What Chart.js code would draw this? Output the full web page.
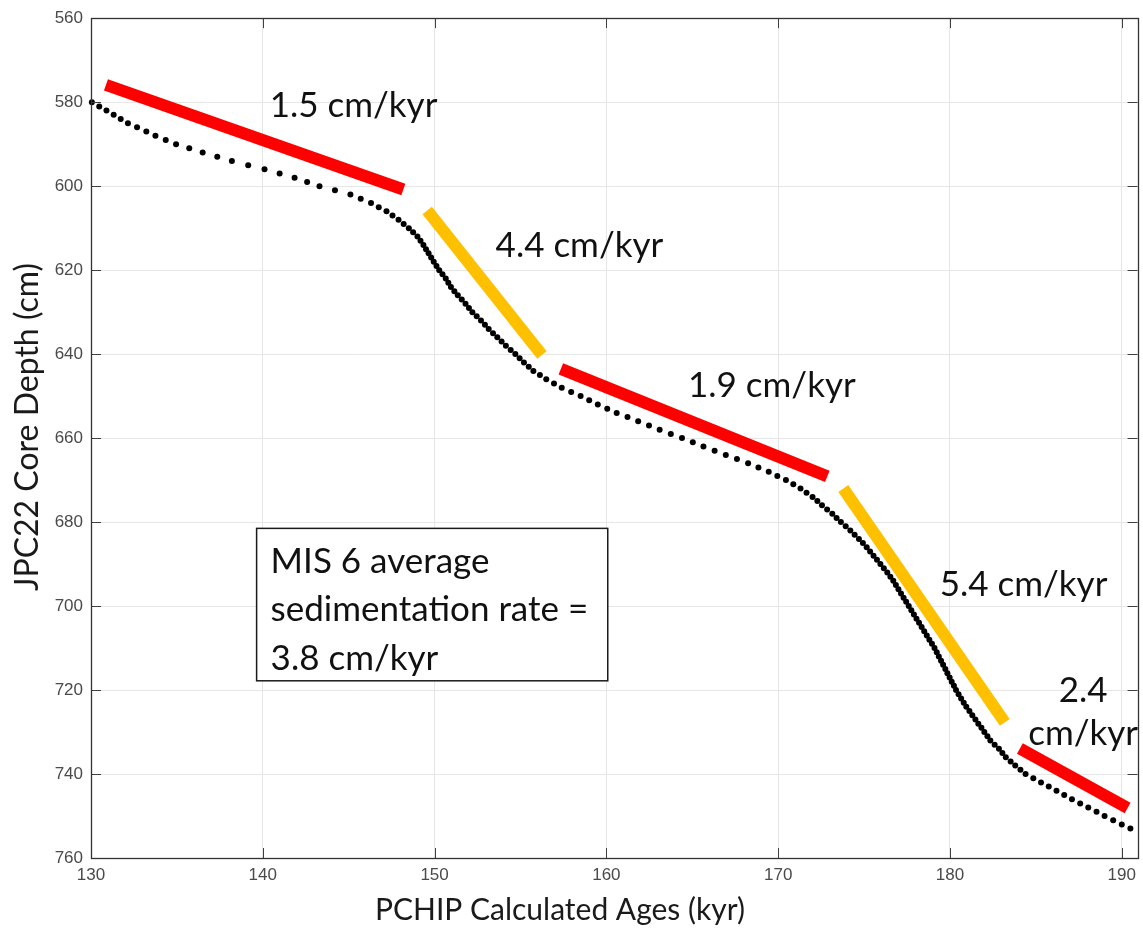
<!DOCTYPE html>
<html>
<head>
<meta charset="utf-8">
<script src="https://cdn.jsdelivr.net/npm/chart.js@4.4.1/dist/chart.umd.min.js"></script>
<style>
  html, body { margin: 0; padding: 0; background: #ffffff; }
  #wrap { position: relative; width: 1143px; height: 934px; }
</style>
</head>
<body>
<div id="wrap"><canvas id="c"></canvas></div>
<script>
// ---------- DATA ----------
const depthCm = [
  580,581,582,583,584,585,586,587,588,589,
  590,591,592,593,594,595,596,597,598,599,
  600,601,602,603,604,605,606,607,608,609,
  610,611,612,613,614,615,616,617,618,619,
  620,621,622,623,624,625,626,627,628,629,
  630,631,632,633,634,635,636,637,638,639,
  640,641,642,643,644,645,646,647,648,649,
  650,651,652,653,654,655,656,657,658,659,
  660,661,662,663,664,665,666,667,668,669,
  670,671,672,673,674,675,676,677,678,679,
  680,681,682,683,684,685,686,687,688,689,
  690,691,692,693,694,695,696,697,698,699,
  700,701,702,703,704,705,706,707,708,709,
  710,711,712,713,714,715,716,717,718,719,
  720,721,722,723,724,725,726,727,728,729,
  730,731,732,733,734,735,736,737,738,739,
  740,741,742,743,744,745,746,747,748,749,
  750,751,752,753
];
const ageKyr = [
  130.05,130.48,130.90,131.32,131.73,132.15,132.68,133.22,133.75,134.35,
  134.95,135.72,136.50,137.35,138.20,139.15,140.10,140.98,141.85,142.58,
  143.30,144.20,145.10,145.70,146.30,146.75,147.20,147.55,147.90,148.20,
  148.50,148.75,149.00,149.18,149.35,149.50,149.65,149.80,149.95,150.11,
  150.27,150.46,150.65,150.80,150.95,151.15,151.35,151.58,151.80,152.00,
  152.20,152.45,152.70,152.93,153.15,153.40,153.65,153.90,154.15,154.43,
  154.70,154.95,155.20,155.48,155.75,156.13,156.50,156.95,157.40,157.95,
  158.50,159.00,159.50,160.05,160.60,161.23,161.85,162.48,163.10,163.75,
  164.40,165.03,165.65,166.30,166.95,167.60,168.25,168.85,169.45,169.95,
  170.45,170.88,171.30,171.65,172.00,172.28,172.55,172.85,173.15,173.40,
  173.65,173.93,174.20,174.45,174.70,174.93,175.15,175.35,175.55,175.75,
  175.95,176.15,176.35,176.53,176.70,176.85,177.00,177.15,177.30,177.45,
  177.60,177.75,177.90,178.05,178.20,178.35,178.50,178.65,178.80,178.95,
  179.10,179.23,179.35,179.48,179.60,179.73,179.85,179.98,180.10,180.23,
  180.35,180.50,180.65,180.80,180.95,181.13,181.30,181.48,181.65,181.83,
  182.00,182.18,182.35,182.60,182.85,183.05,183.25,183.53,183.80,184.10,
  184.40,184.85,185.30,185.75,186.20,186.65,187.10,187.58,188.05,188.53,
  189.00,189.50,190.00,190.50
];
// sedimentation-rate segments (start/end in age & depth)
const segAgeStart   = [130.87, 149.57, 157.35, 173.79, 184.07];
const segAgeEnd     = [148.18, 156.25, 172.86, 183.19, 190.34];
const segDepthStart = [575.9, 605.8, 643.5, 672.0, 733.9];
const segDepthEnd   = [600.8, 640.2, 669.1, 727.7, 748.1];
const segKind       = ['slow', 'fast', 'slow', 'fast', 'slow'];
const rateLabels    = ['1.5 cm/kyr', '4.4 cm/kyr', '1.9 cm/kyr', '5.4 cm/kyr', ['2.4', 'cm/kyr']];
const boxLines      = ['MIS 6 average', 'sedimentation rate =', '3.8 cm/kyr'];
const xTickValues   = [130, 140, 150, 160, 170, 180, 190];
const yTickValues   = [560, 580, 600, 620, 640, 660, 680, 700, 720, 740, 760];
const xTitle        = 'PCHIP Calculated Ages (kyr)';
const yTitle        = 'JPC22 Core Depth (cm)';

// ---------- LAYOUT / STYLE (not data) ----------
const segColors = { slow: '#ff0000', fast: '#ffc000' };
// label anchors in data coordinates: [age, depth, align]
const rateLabelPos = [
  [140.4, 580.9, 'left'],
  [153.55, 614.1, 'left'],
  [164.75, 647.5, 'left'],
  [179.4, 694.8, 'left'],
  [187.75, 720.1, 'center']
];
const boxPos = { a0: 139.64, a1: 160.08, d0: 681.5, d1: 717.8 };
const annFont = '"Lato", "Open Sans", sans-serif';
const tickFont = '"Liberation Sans", Arial, sans-serif';

const points = depthCm.map((d, i) => ({ x: ageKyr[i], y: d }));

const segDatasets = segAgeStart.map((a, i) => ({
  type: 'line',
  data: [{ x: a, y: segDepthStart[i] }, { x: segAgeEnd[i], y: segDepthEnd[i] }],
  borderColor: segColors[segKind[i]],
  backgroundColor: segColors[segKind[i]],
  borderWidth: 12,
  borderCapStyle: 'butt',
  pointRadius: 0,
  showLine: true,
  fill: false,
  clip: false,
  order: 2
}));

const framePlugin = {
  id: 'frameAndNotes',
  afterDatasetsDraw(chart) {
    const { ctx, chartArea: ca, scales: { x, y } } = chart;
    ctx.save();
    // inward tick marks on all four sides
    ctx.strokeStyle = '#404040';
    ctx.lineWidth = 1;
    const tl = 10;
    ctx.beginPath();
    xTickValues.forEach(v => {
      const px = Math.round(x.getPixelForValue(v)) + 0.5;
      ctx.moveTo(px, ca.bottom); ctx.lineTo(px, ca.bottom - tl);
      ctx.moveTo(px, ca.top); ctx.lineTo(px, ca.top + tl);
    });
    yTickValues.forEach(v => {
      const py = Math.round(y.getPixelForValue(v)) + 0.5;
      ctx.moveTo(ca.left, py); ctx.lineTo(ca.left + tl, py);
      ctx.moveTo(ca.right, py); ctx.lineTo(ca.right - tl, py);
    });
    ctx.stroke();
    // box frame
    ctx.strokeStyle = '#333333';
    ctx.lineWidth = 1.3;
    ctx.strokeRect(Math.round(ca.left) + 0.5, Math.round(ca.top) + 0.5,
                   Math.round(ca.right - ca.left), Math.round(ca.bottom - ca.top));

    // rate labels
    ctx.fillStyle = '#111111';
    ctx.font = '35px ' + annFont;
    ctx.textBaseline = 'middle';
    rateLabels.forEach((txt, i) => {
      const [a, d, al] = rateLabelPos[i];
      const px = x.getPixelForValue(a);
      const py = y.getPixelForValue(d);
      ctx.textAlign = al;
      if (Array.isArray(txt)) {
        txt.forEach((t, k) => ctx.fillText(t, px, py + k * 43));
      } else {
        ctx.fillText(txt, px, py);
      }
    });

    // MIS 6 text box
    const bx0 = x.getPixelForValue(boxPos.a0), bx1 = x.getPixelForValue(boxPos.a1);
    const by0 = y.getPixelForValue(boxPos.d0), by1 = y.getPixelForValue(boxPos.d1);
    ctx.fillStyle = '#ffffff';
    ctx.fillRect(bx0, by0, bx1 - bx0, by1 - by0);
    ctx.strokeStyle = '#1a1a1a';
    ctx.lineWidth = 1.5;
    ctx.strokeRect(bx0, by0, bx1 - bx0, by1 - by0);
    ctx.fillStyle = '#111111';
    ctx.textAlign = 'left';
    boxLines.forEach((t, k) => ctx.fillText(t, bx0 + 14, by0 + 33 + k * 48.5));

    // axis titles
    ctx.fillStyle = '#1a1a1a';
    ctx.font = '30px ' + annFont;
    ctx.textAlign = 'center';
    ctx.textBaseline = 'middle';
    ctx.fillText(xTitle, 560, 910);
    ctx.save();
    ctx.translate(28, 427);
    ctx.rotate(-Math.PI / 2);
    ctx.font = '32px ' + annFont;
    ctx.fillText(yTitle, 0, 0);
    ctx.restore();
    ctx.restore();
  }
};

new Chart(document.getElementById('c'), {
  data: {
    datasets: [
      {
        type: 'scatter',
        label: 'PCHIP ages',
        data: points,
        pointRadius: 3,
        pointHoverRadius: 3,
        pointBorderWidth: 0,
        backgroundColor: '#000000',
        borderColor: '#000000',
        clip: false,
        order: 1
      },
      ...segDatasets
    ]
  },
  options: {
    responsive: true,
    maintainAspectRatio: false,
    animation: false,
    devicePixelRatio: 1,
    layout: { padding: { top: 15, right: 3, left: 0, bottom: 0 } },
    plugins: { legend: { display: false }, tooltip: { enabled: false } },
    scales: {
      x: {
        type: 'linear',
        position: 'bottom',
        min: 130,
        max: 190.92,
        afterFit: s => { s.height = 76; },
        afterBuildTicks: s => { s.ticks = xTickValues.map(v => ({ value: v })); },
        grid: { color: '#e6e6e6', lineWidth: 1, drawTicks: false },
        border: { display: false },
        ticks: {
          padding: 7,
          color: '#4a4a4a',
          font: { family: tickFont, size: 17 },
          maxRotation: 0
        },
        title: { display: false }
      },
      y: {
        type: 'linear',
        reverse: true,
        min: 560,
        max: 760,
        afterFit: s => { s.width = 91; },
        afterBuildTicks: s => { s.ticks = yTickValues.map(v => ({ value: v })); },
        grid: { color: '#e6e6e6', lineWidth: 1, drawTicks: false },
        border: { display: false },
        ticks: {
          padding: 8,
          color: '#4a4a4a',
          font: { family: tickFont, size: 17 }
        },
        title: { display: false }
      }
    }
  },
  plugins: [framePlugin]
});
</script>
</body>
</html>
